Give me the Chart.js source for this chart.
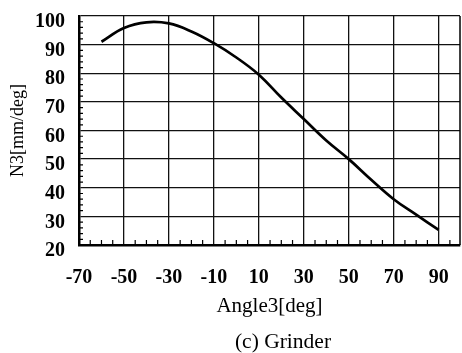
<!DOCTYPE html>
<html>
<head>
<meta charset="utf-8">
<script src="https://cdn.jsdelivr.net/npm/chart.js@4.4.1/dist/chart.umd.min.js"></script>
<style>
  html, body { margin: 0; padding: 0; background: #fff; }
  #wrap { width: 462px; height: 353px; }
</style>
</head>
<body>
<div id="wrap"><canvas id="n3Chart"></canvas></div>
<script>
// N3 against Angle3, grinder case
const angle3 = [-60, -50, -40, -30, -20, -10, 0, 10, 20, 30, 40, 50, 60, 70, 80, 90];
const n3 = [91.0, 95.8, 97.8, 97.4, 94.6, 90.5, 85.5, 79.5, 71.5, 64.0, 56.5, 50.0, 42.8, 36.0, 30.6, 25.3];

const xTicks = [-70, -50, -30, -10, 10, 30, 50, 70, 90];
const yTicks = [20, 30, 40, 50, 60, 70, 80, 90, 100];
const xMin = -70, xMax = 99.5;
const yMin = 20, yMax = 100;

const serif = "'Liberation Serif', 'DejaVu Serif', serif";
const caption = '(c) Grinder';

// keep the plot box fixed: no extra room for overhanging labels
function noScalePadding(scale) {
  scale.paddingLeft = 0;
  scale.paddingRight = 0;
  scale.paddingTop = 0;
  scale.paddingBottom = 0;
}

// small inner ticks on the left and bottom axes, right frame edge, caption
const minorTicks = {
  id: 'minorTicks',
  afterDatasetsDraw(chart) {
    const { ctx, chartArea, scales } = chart;
    ctx.save();
    ctx.strokeStyle = '#000';
    ctx.lineWidth = 1.2;
    ctx.beginPath();
    for (let v = xMin + 5; v < xMax; v += 5) {
      if ((v - xMin) % 20 === 0) continue;
      const px = scales.x.getPixelForValue(v);
      ctx.moveTo(px, chartArea.bottom);
      ctx.lineTo(px, chartArea.bottom - 5);
    }
    for (let v = yMin + 2; v < yMax; v += 2) {
      if (v % 10 === 0) continue;
      const py = scales.y.getPixelForValue(v);
      ctx.moveTo(chartArea.left, py);
      ctx.lineTo(chartArea.left + 4, py);
    }
    ctx.stroke();
    ctx.lineWidth = 1.5;
    ctx.beginPath();
    ctx.moveTo(chartArea.right, chartArea.top);
    ctx.lineTo(chartArea.right, chartArea.bottom);
    ctx.stroke();

    ctx.fillStyle = '#000';
    ctx.font = '21.5px ' + serif;
    ctx.textAlign = 'center';
    ctx.textBaseline = 'middle';
    ctx.fillText(caption, 283, 342);
    ctx.restore();
  }
};

new Chart(document.getElementById('n3Chart'), {
  type: 'line',
  data: {
    datasets: [{
      data: angle3.map((x, i) => ({ x: x, y: n3[i] })),
      borderColor: '#000',
      borderWidth: 2.7,
      pointRadius: 0,
      tension: 0.4,
      fill: false
    }]
  },
  options: {
    responsive: true,
    maintainAspectRatio: false,
    animation: false,
    layout: { padding: { top: 16, right: 2, left: 0, bottom: 21 } },
    plugins: {
      legend: { display: false },
      tooltip: { enabled: false }
    },
    scales: {
      x: {
        type: 'linear',
        min: xMin,
        max: xMax,
        afterBuildTicks: (scale) => {
          scale.ticks = xTicks.map(v => ({ value: v }));
        },
        afterFit: (scale) => { scale.height = 87; noScalePadding(scale); },
        grid: { color: '#111', lineWidth: 1.3, drawTicks: false },
        border: { color: '#000', width: 2.5 },
        ticks: {
          autoSkip: false,
          maxRotation: 0,
          padding: 21,
          color: '#000',
          font: { family: serif, size: 20, weight: 'bold' }
        },
        title: {
          display: true,
          text: 'Angle3[deg]',
          color: '#000',
          padding: { top: 0, bottom: 13 },
          font: { family: serif, size: 21 }
        }
      },
      y: {
        min: yMin,
        max: yMax,
        afterBuildTicks: (scale) => {
          scale.ticks = yTicks.map(v => ({ value: v }));
        },
        afterFit: (scale) => { scale.width = 79; noScalePadding(scale); },
        grid: { color: '#111', lineWidth: 1.3, drawTicks: false },
        border: { color: '#000', width: 2.5 },
        ticks: {
          padding: 14,
          labelOffset: 6,
          color: '#000',
          font: { family: serif, size: 20, weight: 'bold' }
        },
        title: {
          display: true,
          text: 'N3[mm/deg]',
          color: '#000',
          padding: { top: 7, bottom: 0 },
          font: { family: serif, size: 18 }
        }
      }
    }
  },
  plugins: [minorTicks]
});
</script>
</body>
</html>
